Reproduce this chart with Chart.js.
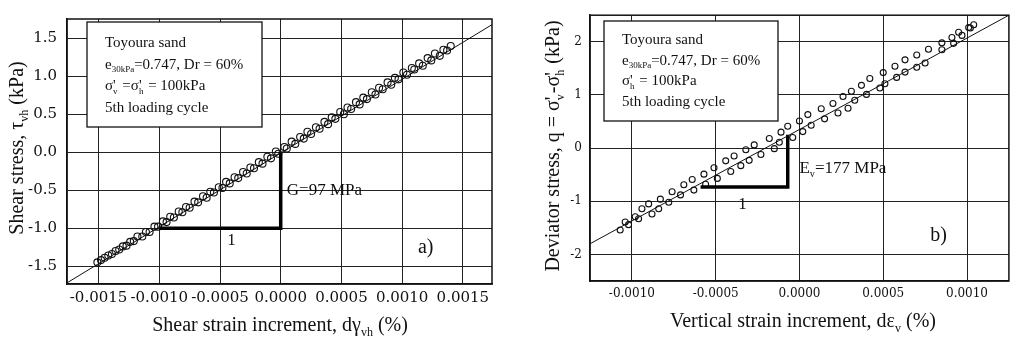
<!DOCTYPE html>
<html>
<head>
<meta charset="utf-8">
<script src="https://cdn.jsdelivr.net/npm/chart.js@4.4.0/dist/chart.umd.min.js"></script>
<style>
  body { margin: 0; background: #fff; }
  #wrap { position: relative; width: 1014px; height: 339px; }
  canvas { position: absolute; top: 0; }
</style>
</head>
<body>
<div id="wrap">
  <canvas id="shearChart" width="500" height="339" style="left:0"></canvas>
  <canvas id="axialChart" width="514" height="339" style="left:500px"></canvas>
</div>
<script>
// ---- a) shear stress vs shear strain increment ----
const shearUpX = [-0.00148, -0.00142, -0.00136, -0.00130, -0.00124, -0.00118, -0.00111, -0.00104, -0.00097, -0.00091,
  -0.00084, -0.00078, -0.00071, -0.00064, -0.00058, -0.00051, -0.00045, -0.00038, -0.00031, -0.00025,
  -0.00018, -0.00011, -0.00004, 0.00003, 0.00009, 0.00016, 0.00022, 0.00029, 0.00036, 0.00042,
  0.00049, 0.00055, 0.00062, 0.00068, 0.00075, 0.00081, 0.00088, 0.00094, 0.00101, 0.00108,
  0.00114, 0.00121, 0.00127, 0.00134, 0.00140];
const shearUpY = [-1.42, -1.36, -1.30, -1.24, -1.18, -1.11, -1.05, -0.98, -0.91, -0.85,
  -0.78, -0.72, -0.65, -0.58, -0.52, -0.46, -0.39, -0.33, -0.26, -0.20,
  -0.13, -0.06, 0.01, 0.07, 0.14, 0.20, 0.27, 0.33, 0.40, 0.46,
  0.53, 0.59, 0.66, 0.72, 0.79, 0.85, 0.92, 0.98, 1.05, 1.11,
  1.17, 1.24, 1.30, 1.35, 1.40];
const shearDownX = [-0.00151, -0.00145, -0.00139, -0.00133, -0.00127, -0.00121, -0.00114, -0.00108, -0.00101, -0.00094,
  -0.00088, -0.00081, -0.00075, -0.00068, -0.00061, -0.00055, -0.00048, -0.00042, -0.00035, -0.00028,
  -0.00022, -0.00015, -0.00008, -0.00002, 0.00005, 0.00012, 0.00019, 0.00025, 0.00032, 0.00039,
  0.00045, 0.00052, 0.00058, 0.00065, 0.00071, 0.00078, 0.00084, 0.00091, 0.00097, 0.00104,
  0.00110, 0.00117, 0.00124, 0.00131, 0.00137];
const shearDownY = [-1.45, -1.39, -1.34, -1.28, -1.23, -1.17, -1.11, -1.05, -0.98, -0.92,
  -0.86, -0.79, -0.73, -0.66, -0.60, -0.53, -0.47, -0.41, -0.34, -0.28,
  -0.21, -0.15, -0.08, -0.02, 0.05, 0.11, 0.18, 0.24, 0.31, 0.37,
  0.44, 0.50, 0.57, 0.63, 0.70, 0.76, 0.83, 0.89, 0.96, 1.02,
  1.09, 1.14, 1.21, 1.27, 1.34];
const shearFitX = [-0.00176, 0.00176];
const shearFitY = [-1.72, 1.70];
const shearTriX = [-0.0010, 0.0000, 0.0000];
const shearTriY = [-1.0, -1.0, 0.0];
const shearXTicks = [-0.0015, -0.0010, -0.0005, 0.0000, 0.0005, 0.0010, 0.0015];
const shearYTicks = [-1.5, -1.0, -0.5, 0.0, 0.5, 1.0, 1.5];

// ---- b) deviator stress vs vertical strain increment ----
const axialUpX = [-0.00104, -0.00098, -0.00094, -0.00090, -0.00083, -0.00076, -0.00069, -0.00064, -0.00057, -0.00051,
  -0.00044, -0.00039, -0.00032, -0.00027, -0.00018, -0.00011, -0.00007, 0.00000, 0.00005, 0.00013,
  0.00020, 0.00026, 0.00031, 0.00037, 0.00042, 0.00050, 0.00057, 0.00063, 0.00070, 0.00077,
  0.00085, 0.00091, 0.00095, 0.00101, 0.00104];
const axialUpY = [-1.39, -1.29, -1.14, -1.05, -0.96, -0.82, -0.69, -0.59, -0.49, -0.37,
  -0.24, -0.15, -0.03, 0.06, 0.18, 0.30, 0.41, 0.51, 0.63, 0.74,
  0.84, 0.97, 1.07, 1.18, 1.31, 1.42, 1.54, 1.66, 1.75, 1.86,
  1.98, 2.08, 2.18, 2.27, 2.32];
const axialDownX = [-0.00107, -0.00102, -0.00096, -0.00088, -0.00084, -0.00078, -0.00071, -0.00063, -0.00056, -0.00049,
  -0.00041, -0.00035, -0.00030, -0.00023, -0.00015, -0.00012, -0.00004, 0.00002, 0.00007, 0.00015,
  0.00023, 0.00029, 0.00033, 0.00040, 0.00048, 0.00051, 0.00058, 0.00063, 0.00070, 0.00075,
  0.00085, 0.00092, 0.00097, 0.00102];
const axialDownY = [-1.54, -1.44, -1.33, -1.24, -1.14, -1.02, -0.88, -0.79, -0.68, -0.57,
  -0.44, -0.33, -0.23, -0.12, -0.01, 0.11, 0.20, 0.31, 0.43, 0.55,
  0.66, 0.75, 0.90, 1.01, 1.13, 1.21, 1.33, 1.43, 1.52, 1.60,
  1.85, 1.97, 2.12, 2.26];
const axialFitX = [-0.00125, 0.00125];
const axialFitY = [-1.80, 2.50];
const axialTriX = [-0.00059, -0.00007, -0.00007];
const axialTriY = [-0.73, -0.73, 0.25];
const axialXTicks = [-0.0010, -0.0005, 0.0000, 0.0005, 0.0010];
const axialYTicks = [-2, -1, 0, 1, 2];

const SERIF = '"Liberation Serif", "Times New Roman", serif';
const TICKFONT = '"DejaVu Serif", serif';
const INK = '#111';

function pts(xs, ys) {
  return xs.map((x, i) => ({ x: x, y: ys[i] }));
}

// text runs: {t} normal, {t, sub} subscript, {sup, sub} prime stacked over subscript
function runWidth(ctx, p, size) {
  if (p.sup !== undefined) {
    ctx.font = size + 'px ' + SERIF;
    const a = ctx.measureText(p.sup).width;
    ctx.font = (size * 0.6) + 'px ' + SERIF;
    return Math.max(a, ctx.measureText(p.sub).width) + 1;
  }
  ctx.font = (p.sub ? size * 0.6 : size) + 'px ' + SERIF;
  return ctx.measureText(p.t).width;
}

function drawRich(ctx, runs, x, y, size, centered) {
  const widths = runs.map(p => runWidth(ctx, p, size));
  let cx = centered ? x - widths.reduce((a, b) => a + b, 0) / 2 : x;
  ctx.fillStyle = INK;
  ctx.textAlign = 'left';
  ctx.textBaseline = 'alphabetic';
  runs.forEach((p, i) => {
    if (p.sup !== undefined) {
      ctx.font = size + 'px ' + SERIF;
      ctx.fillText(p.sup, cx, y);
      ctx.font = (size * 0.6) + 'px ' + SERIF;
      ctx.fillText(p.sub, cx, y + size * 0.25);
    } else if (p.sub) {
      ctx.font = (size * 0.6) + 'px ' + SERIF;
      ctx.fillText(p.t, cx, y + size * 0.25);
    } else {
      ctx.font = size + 'px ' + SERIF;
      ctx.fillText(p.t, cx, y);
    }
    cx += widths[i];
  });
}

// frame, info box, slope triangle labels and axis titles
const decorations = {
  id: 'decorations',
  afterDraw(chart, args, o) {
    const ctx = chart.ctx;
    const a = chart.chartArea;
    const xs = chart.scales.x, ys = chart.scales.y;
    ctx.save();
    ctx.strokeStyle = INK;
    ctx.lineWidth = 1.5;
    ctx.strokeRect(a.left, a.top, a.right - a.left, a.bottom - a.top);

    const b = o.box;
    ctx.fillStyle = '#fff';
    ctx.fillRect(b.x, b.y, b.w, b.h);
    ctx.lineWidth = 1.3;
    ctx.strokeRect(b.x, b.y, b.w, b.h);
    o.boxLines.forEach((runs, i) => drawRich(ctx, runs, b.tx, b.ty + i * b.lh, 15, false));

    o.labels.forEach(l => {
      drawRich(ctx, l.runs, xs.getPixelForValue(l.x), ys.getPixelForValue(l.y), l.size, false);
    });

    drawRich(ctx, o.xTitle.runs, o.xTitle.x, o.xTitle.y, 20, true);
    ctx.translate(o.yTitle.x, o.yTitle.y);
    ctx.rotate(-Math.PI / 2);
    drawRich(ctx, o.yTitle.runs, 0, 7, 20, true);
    ctx.restore();
  }
};

function buildChart(id, c) {
  new Chart(document.getElementById(id), {
    type: 'scatter',
    data: {
      datasets: [
        { data: pts(c.fitX, c.fitY), showLine: true, borderColor: INK, borderWidth: 1, pointRadius: 0 },
        { data: pts(c.triX, c.triY), showLine: true, borderColor: '#000', borderWidth: 3.5, pointRadius: 0, borderJoinStyle: 'miter' },
        { data: pts(c.upX, c.upY), pointRadius: c.r, pointBorderWidth: 1.1, pointBorderColor: INK, pointBackgroundColor: 'rgba(0,0,0,0)' },
        { data: pts(c.downX, c.downY), pointRadius: c.r, pointBorderWidth: 1.1, pointBorderColor: INK, pointBackgroundColor: 'rgba(0,0,0,0)' }
      ]
    },
    options: {
      responsive: false,
      animation: false,
      devicePixelRatio: 1,
      layout: { padding: c.padding },
      plugins: {
        legend: { display: false },
        tooltip: { enabled: false },
        decorations: c.deco
      },
      scales: {
        x: {
          type: 'linear', min: c.xMin, max: c.xMax,
          afterBuildTicks: s => { s.ticks = c.xTicks.map(v => ({ value: v })); },
          afterFit: s => { s.height = c.xAxisH; },
          ticks: { callback: v => v.toFixed(4), font: { family: TICKFONT, size: c.tickSize }, color: INK, padding: c.xPad, maxRotation: 0, autoSkip: false },
          grid: { color: '#222', lineWidth: 1, drawTicks: false },
          border: { color: INK, width: 1.5 }
        },
        y: {
          type: 'linear', min: c.yMin, max: c.yMax,
          afterBuildTicks: s => { s.ticks = c.yTicks.map(v => ({ value: v })); },
          afterFit: s => { s.width = c.yAxisW; },
          ticks: { callback: v => v.toFixed(c.yDigits), font: { family: TICKFONT, size: c.tickSize }, color: INK, padding: c.yPad, autoSkip: false },
          grid: { color: '#222', lineWidth: 1, drawTicks: false },
          border: { color: INK, width: 1.5 }
        }
      }
    },
    plugins: [decorations]
  });
}

buildChart('shearChart', {
  upX: shearUpX, upY: shearUpY, downX: shearDownX, downY: shearDownY,
  fitX: shearFitX, fitY: shearFitY, triX: shearTriX, triY: shearTriY,
  xTicks: shearXTicks, yTicks: shearYTicks,
  xMin: -0.00176, xMax: 0.00174, yMin: -1.735, yMax: 1.755, yDigits: 1,
  r: 3.5, tickSize: 15, xPad: 5, yPad: 10,
  padding: { left: 0, top: 11, right: 8, bottom: 0 }, yAxisW: 67, xAxisH: 55,
  deco: {
    box: { x: 87, y: 22, w: 175, h: 105, tx: 105, ty: 47, lh: 21.5 },
    boxLines: [
      [{ t: 'Toyoura sand' }],
      [{ t: 'e' }, { t: '30kPa', sub: true }, { t: '=0.747, Dr = 60%' }],
      [{ t: 'σ' }, { sup: "'", sub: 'v' }, { t: ' =σ' }, { sup: "'", sub: 'h' }, { t: ' = 100kPa' }],
      [{ t: '5th loading cycle' }]
    ],
    labels: [
      { runs: [{ t: 'G=97 MPa' }], x: 0.00005, y: -0.56, size: 17 },
      { runs: [{ t: '1' }], x: -0.00044, y: -1.22, size: 17 },
      { runs: [{ t: 'a)' }], x: 0.00113, y: -1.33, size: 20 }
    ],
    xTitle: { x: 280, y: 331, runs: [{ t: 'Shear strain increment, d' }, { t: 'γ' }, { t: 'vh', sub: true }, { t: ' (%)' }] },
    yTitle: { x: 16, y: 148, runs: [{ t: 'Shear stress, ' }, { t: 'τ' }, { t: 'vh', sub: true }, { t: ' (kPa)' }] }
  }
});

buildChart('axialChart', {
  upX: axialUpX, upY: axialUpY, downX: axialDownX, downY: axialDownY,
  fitX: axialFitX, fitY: axialFitY, triX: axialTriX, triY: axialTriY,
  xTicks: axialXTicks, yTicks: axialYTicks,
  xMin: -0.00125, xMax: 0.00125, yMin: -2.5, yMax: 2.5, yDigits: 0,
  r: 3, tickSize: 12, xPad: 6, yPad: 8,
  padding: { left: 0, top: 8, right: 1, bottom: 0 }, yAxisW: 90, xAxisH: 58,
  deco: {
    box: { x: 104, y: 21, w: 174, h: 100, tx: 122, ty: 44, lh: 20.5 },
    boxLines: [
      [{ t: 'Toyoura sand' }],
      [{ t: 'e' }, { t: '30kPa', sub: true }, { t: '=0.747, Dr = 60%' }],
      [{ t: 'σ' }, { sup: "'", sub: 'h' }, { t: ' = 100kPa' }],
      [{ t: '5th loading cycle' }]
    ],
    labels: [
      { runs: [{ t: 'E' }, { t: 'v', sub: true }, { t: '=177 MPa' }], x: 0.0, y: -0.47, size: 17 },
      { runs: [{ t: '1' }], x: -0.000365, y: -1.145, size: 17 },
      { runs: [{ t: 'b)' }], x: 0.00078, y: -1.75, size: 20 }
    ],
    xTitle: { x: 303, y: 327, runs: [{ t: 'Vertical strain increment, d' }, { t: 'ε' }, { t: 'v', sub: true }, { t: ' (%)' }] },
    yTitle: { x: 52, y: 146, runs: [{ t: 'Deviator stress, q = σ' }, { sup: "'", sub: 'v' }, { t: '-σ' }, { sup: "'", sub: 'h' }, { t: ' (kPa)' }] }
  }
});
</script>
</body>
</html>
